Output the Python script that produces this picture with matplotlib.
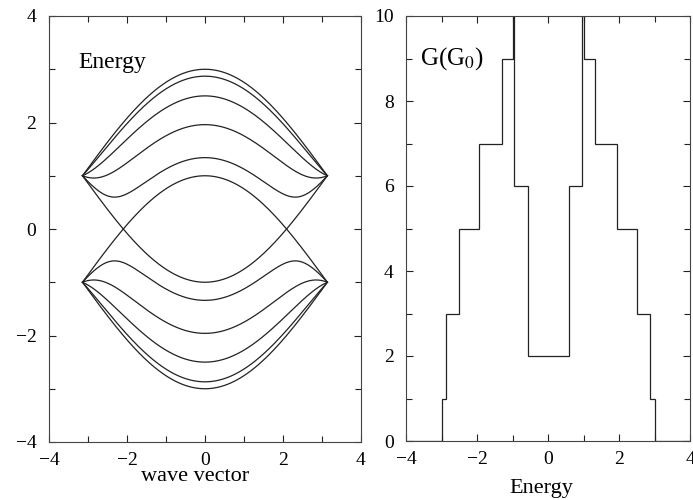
import matplotlib
matplotlib.use('Agg')
import matplotlib.pyplot as plt
import numpy as np
from matplotlib.ticker import MultipleLocator

plt.rcParams['font.family'] = ['Liberation Serif', 'DejaVu Serif']
plt.rcParams['mathtext.fontset'] = 'stix'

# subband energies at k = 0 (upper half; lower half is mirrored)
band_top = [3.0, 2.87, 2.5, 1.96, 1.34, 1.0]
band_edge = 1.0   # all subbands meet at E = +-1 at the zone boundary

# conductance steps: energy edges and G (in units of G0) between them
g_edges = [-4.0, -3.0, -2.87, -2.5, -1.95, -1.31, -1.0, -0.95, -0.58,
           0.58, 0.95, 1.0, 1.31, 1.95, 2.5, 2.87, 3.0, 4.0]
g_values = [0, 1, 3, 5, 7, 9, 12, 6, 2, 6, 12, 9, 7, 5, 3, 1, 0]

k = np.linspace(-np.pi, np.pi, 400)
c = np.cos(k / 2)

fig = plt.figure(figsize=(6.93, 5.0), dpi=100)
ax1 = fig.add_axes([0.0707, 0.116, 0.450, 0.852])
ax2 = fig.add_axes([0.586, 0.118, 0.410, 0.850])

lc = '#222222'
for e0 in band_top:
    # tight-binding subband: E^2 = t^2 + 4c^2 + 4c*cos(theta), fixed by E(k=0)
    cos_th = (e0**2 - band_edge**2 - 4) / 4
    if np.isclose(cos_th, -1):
        # linear-crossing pair through E = 0
        e = 2 * c - band_edge
    else:
        e = np.sqrt(band_edge**2 + 4 * c**2 + 4 * c * cos_th)
    ax1.plot(k, e, color=lc, lw=0.9)
    ax1.plot(k, -e, color=lc, lw=0.9)

ax1.set_xlim(-4, 4)
ax1.set_ylim(-4, 4)
ax1.text(-3.25, 3.02, 'Energy', fontsize=17)
ax1.set_xlabel('wave vector', fontsize=16)
ax1.xaxis.label.set_va('baseline')
ax1.xaxis.set_label_coords(0.468, -0.092)

ax2.stairs(g_values, g_edges, color=lc, lw=0.9, baseline=None)
ax2.set_xlim(-4, 4)
ax2.set_ylim(0, 10)
ax2.text(-3.62, 8.85, r'G(G$_0$)', fontsize=18)
ax2.set_xlabel('Energy', fontsize=16)
ax2.xaxis.label.set_va('baseline')
ax2.xaxis.set_label_coords(0.475, -0.122)

for ax in (ax1, ax2):
    ax.xaxis.set_major_locator(MultipleLocator(2))
    ax.xaxis.set_minor_locator(MultipleLocator(1))
    ax.yaxis.set_major_locator(MultipleLocator(2))
    ax.yaxis.set_minor_locator(MultipleLocator(1))
    ax.tick_params(which='both', direction='in', top=True, right=True,
                   labelsize=14, width=0.8, color=lc)
    ax.tick_params(axis='x', pad=7)
    ax.tick_params(axis='y', pad=9)
    ax.tick_params(which='major', length=5)
    ax.tick_params(which='minor', length=4)
    for s in ax.spines.values():
        s.set_linewidth(0.8)
        s.set_color('#444444')

plt.savefig('out.png', dpi=100)
